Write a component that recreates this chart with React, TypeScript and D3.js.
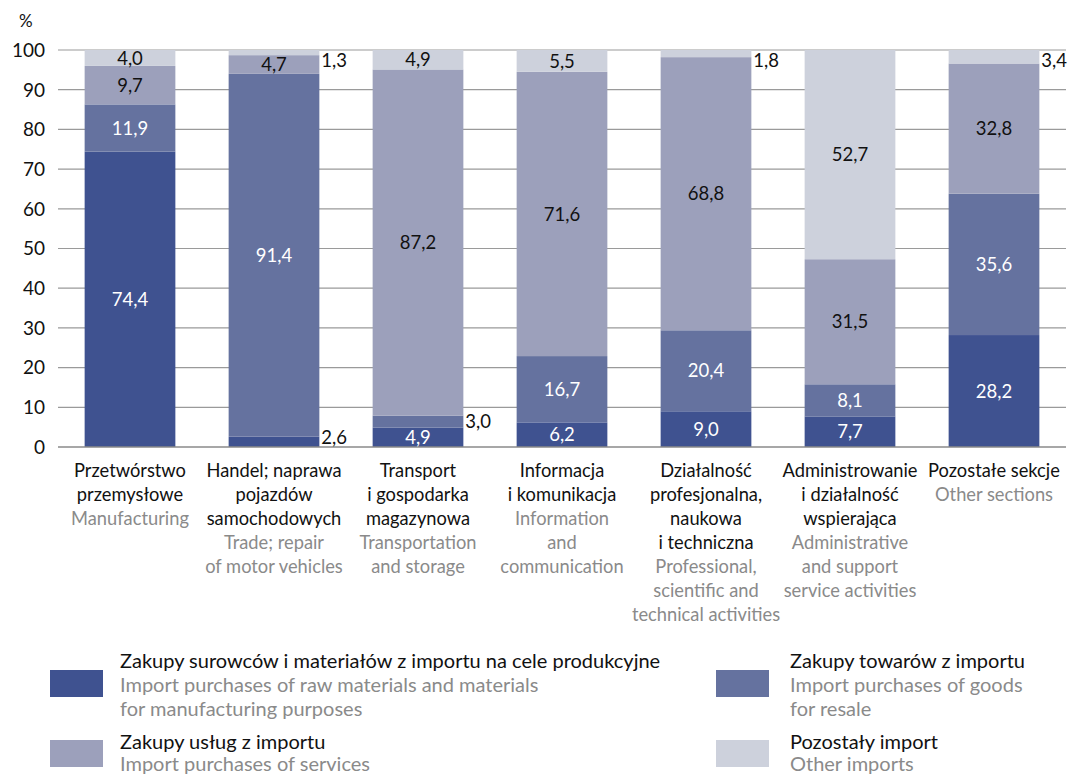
import React from "react";
import * as d3 from "d3";

// categories: Polish name lines, English name lines
const categoriesPl: string[][] = [
  ["Przetwórstwo", "przemysłowe"],
  ["Handel; naprawa", "pojazdów", "samochodowych"],
  ["Transport", "i gospodarka", "magazynowa"],
  ["Informacja", "i komunikacja"],
  ["Działalność", "profesjonalna,", "naukowa", "i techniczna"],
  ["Administrowanie", "i działalność", "wspierająca"],
  ["Pozostałe sekcje"],
];
const categoriesEn: string[][] = [
  ["Manufacturing"],
  ["Trade; repair", "of motor vehicles"],
  ["Transportation", "and storage"],
  ["Information", "and", "communication"],
  ["Professional,", "scientific and", "technical activities"],
  ["Administrative", "and support", "service activities"],
  ["Other sections"],
];

const rawMaterials = [74.4, 2.6, 4.9, 6.2, 9.0, 7.7, 28.2];
const goods = [11.9, 91.4, 3.0, 16.7, 20.4, 8.1, 35.6];
const services = [9.7, 4.7, 87.2, 71.6, 68.8, 31.5, 32.8];
const otherImports = [4.0, 1.3, 4.9, 5.5, 1.8, 52.7, 3.4];

const yTicks = [0, 10, 20, 30, 40, 50, 60, 70, 80, 90, 100];

const seriesKeys = ["raw", "goods", "services", "other"];
const colors = ["#3f5290", "#65729f", "#9ca0bb", "#cdd1dc"];
const labelColors = ["#ffffff", "#ffffff", "#111111", "#111111"];

const legendPl = [
  "Zakupy surowców i materiałów z importu na cele produkcyjne",
  "Zakupy towarów z importu",
  "Zakupy usług z importu",
  "Pozostały import",
];
const legendEn = [
  ["Import purchases of  raw materials and materials", "for manufacturing purposes"],
  ["Import purchases of goods", "for resale"],
  ["Import purchases of services"],
  ["Other imports"],
];

const FONT = "Lato, 'Noto Sans', sans-serif";

export default function App() {
  const width = 1069;
  const height = 777;
  const left = 58;
  const right = 1066;
  const top = 50;
  const bottom = 447;

  const data = categoriesPl.map((_, i) => ({
    idx: i,
    raw: rawMaterials[i],
    goods: goods[i],
    services: services[i],
    other: otherImports[i],
  }));

  const x = d3
    .scaleBand<number>()
    .domain(data.map((d) => d.idx))
    .range([left, right])
    .paddingInner(0.37)
    .paddingOuter(0.185);
  const y = d3.scaleLinear().domain([0, 100]).range([bottom, top]);

  const stack = d3.stack<any>().keys(seriesKeys);
  const series = stack(data);

  const fmt = (v: number) => v.toFixed(1).replace(".", ",");

  return (
    <div style={{ position: "absolute", left: 0, top: 0 }}>
      <svg width={width} height={height} style={{ display: "block", fontFamily: FONT }}>
        <rect width={width} height={height} fill="#fff" />
        <text x={19} y={27} fontSize={17} fill="#111">%</text>
        {yTicks.map((t) => (
          <g key={t}>
            {t > 0 && (
              <line x1={left} x2={right} y1={y(t)} y2={y(t)} stroke="#9a9a9a" strokeWidth={1.2} />
            )}
            <text x={45} y={y(t)} dy="0.36em" textAnchor="end" fontSize={19} fill="#111">
              {t}
            </text>
          </g>
        ))}
        {series.map((s, si) => (
          <g key={s.key} fill={colors[si]}>
            {s.map((d, i) => (
              <rect
                key={i}
                x={x(i)}
                y={y(d[1])}
                width={x.bandwidth()}
                height={y(d[0]) - y(d[1])}
              />
            ))}
          </g>
        ))}
        <line x1={left} x2={right} y1={bottom} y2={bottom} stroke="#8a8a8a" strokeWidth={1.5} />
        {series.map((s, si) =>
          s.map((d, i) => {
            const v = d[1] - d[0];
            const mid = y((d[0] + d[1]) / 2);
            const inside = v >= 4;
            const bx = x(i)!;
            if (inside) {
              return (
                <text
                  key={s.key + i}
                  x={bx + x.bandwidth() / 2}
                  y={mid}
                  dy="0.36em"
                  textAnchor="middle"
                  fontSize={18.5}
                  fill={labelColors[si]}
                >
                  {fmt(v)}
                </text>
              );
            }
            const ly = Math.min(Math.max(mid, 60), 437);
            return (
              <text
                key={s.key + i}
                x={bx + x.bandwidth() + 2}
                y={ly}
                dy="0.36em"
                fontSize={18.5}
                fill="#111"
              >
                {fmt(v)}
              </text>
            );
          })
        )}
        {data.map((d, i) => {
          const cx = x(i)! + x.bandwidth() / 2;
          const pl = categoriesPl[i];
          const en = categoriesEn[i];
          return (
            <text key={i} x={cx} textAnchor="middle" fontSize={18.3}>
              {pl.map((l, j) => (
                <tspan key={"p" + j} x={cx} y={477 + j * 24} fill="#111">
                  {l}
                </tspan>
              ))}
              {en.map((l, j) => (
                <tspan key={"e" + j} x={cx} y={477 + (pl.length + j) * 24} fill="#8a8a8a">
                  {l}
                </tspan>
              ))}
            </text>
          );
        })}
        {legendPl.map((l, i) => {
          const col = i % 2;
          const row = Math.floor(i / 2);
          const sx = col === 0 ? 50 : 716;
          const tx = col === 0 ? 120 : 790;
          const ty = row === 0 ? 668 : 749;
          const sy = row === 0 ? 670 : 740;
          return (
            <g key={i}>
              <rect x={sx} y={sy} width={53} height={27} fill={colors[i]} />
              <text x={tx} y={ty} fontSize={20}>
                <tspan x={tx} fill="#111">{l}</tspan>
                {legendEn[i].map((e, j) => (
                  <tspan key={j} x={tx} dy={row === 0 ? 24 : 22} fill="#8a8a8a">
                    {e}
                  </tspan>
                ))}
              </text>
            </g>
          );
        })}
      </svg>
    </div>
  );
}
